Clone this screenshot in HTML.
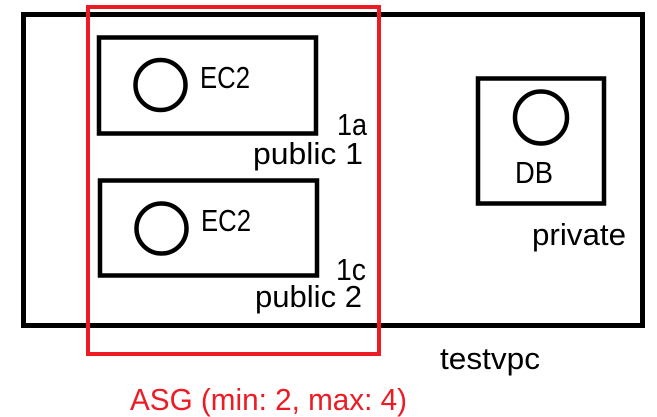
<!DOCTYPE html>
<html><head><style>html,body{margin:0;padding:0;background:#fff}svg{display:block}</style></head>
<body>
<svg width="657" height="417" viewBox="0 0 657 417" xmlns="http://www.w3.org/2000/svg" font-family="Liberation Sans, sans-serif" font-size="31">
<rect x="23.5" y="14.5" width="619" height="311" fill="none" stroke="#000" stroke-width="5"/>
<rect x="99" y="37.5" width="217" height="96" fill="none" stroke="#000" stroke-width="4.5"/>
<rect x="100" y="180.5" width="217" height="95" fill="none" stroke="#000" stroke-width="4.5"/>
<rect x="478" y="78.5" width="126" height="125" fill="none" stroke="#000" stroke-width="4.5"/>
<circle cx="160.5" cy="85" r="25" fill="none" stroke="#000" stroke-width="4.5"/>
<circle cx="161.5" cy="228.5" r="25" fill="none" stroke="#000" stroke-width="4.5"/>
<circle cx="541" cy="117.5" r="26" fill="none" stroke="#000" stroke-width="4.5"/>
<rect x="88" y="7" width="291" height="347" fill="none" stroke="#ed1c24" stroke-width="4"/>
<text x="200" y="88" textLength="50" lengthAdjust="spacingAndGlyphs">EC2</text>
<text x="201" y="231" textLength="50" lengthAdjust="spacingAndGlyphs">EC2</text>
<text x="337" y="135" textLength="30" lengthAdjust="spacingAndGlyphs">1a</text>
<text x="253" y="164" textLength="110" lengthAdjust="spacingAndGlyphs">public 1</text>
<text x="336" y="280" textLength="30" lengthAdjust="spacingAndGlyphs">1c</text>
<text x="255" y="307" textLength="107" lengthAdjust="spacingAndGlyphs">public 2</text>
<text x="515" y="183" textLength="38" lengthAdjust="spacingAndGlyphs">DB</text>
<text x="532" y="245" textLength="94" lengthAdjust="spacingAndGlyphs">private</text>
<text x="440" y="369" textLength="100" lengthAdjust="spacingAndGlyphs">testvpc</text>
<text x="130" y="410" fill="#ed1c24" textLength="277" lengthAdjust="spacingAndGlyphs">ASG (min: 2, max: 4)</text>
</svg>
</body></html>
